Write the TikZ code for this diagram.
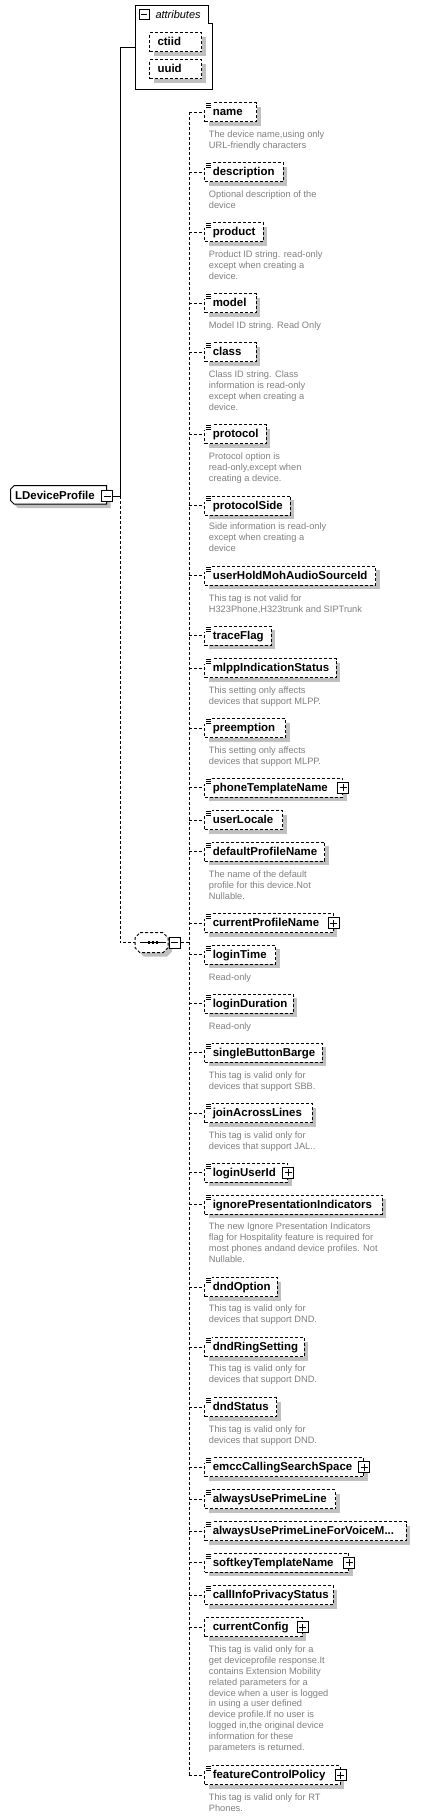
\documentclass[tikz,border=0pt]{standalone}
\usepackage{fontspec}
\setmainfont{Liberation Sans}
\usetikzlibrary{shadows}

\definecolor{shadegray}{RGB}{192,192,192}
\definecolor{notegray}{RGB}{128,128,128}

\tikzset{
  solidline/.style={line width=1bp},
  dashline/.style={line width=1bp, dash pattern=on 3bp off 2bp},
  elembox/.style={draw, dashline, fill=white, anchor=west, inner xsep=8bp, inner ysep=0pt,
    minimum height=19bp, text height=9bp, text depth=2bp, align=left,
    font=\fontsize{11.5}{12}\selectfont\bfseries,
    drop shadow={shadow xshift=4bp, shadow yshift=-4bp, fill=shadegray, opacity=1}},
  notetext/.style={anchor=north west, inner sep=0pt, align=left, text=notegray,
    font=\fontsize{9.3}{11}\selectfont},
  pmbox/.style={draw, solidline, fill=white, minimum size=11bp, inner sep=0pt},
}

% child element: name, centre y, right edge, label
\newcommand{\xsdelem}[4]{%
  \pgfmathsetmacro{\boxw}{#3-204.3-16}%
  \node[elembox, text width=\boxw bp] (#1) at (204.3,#2) {\mbox{#4}};
  \draw[dashline] (spine |- #1.west) -- (#1.west);
}
% type mark in the corner
\newcommand{\xsdicon}[1]{%
  \begin{scope}[shift={(#1.north west)}]
    \fill[white] (-0.6,-0.8) rectangle (7.2,6);
    \draw[line width=0.9bp] (1.7,1.3) -- ++(4.6,0) (1.7,3.3) -- ++(4.6,0) (1.7,5.3) -- ++(4.6,0);
  \end{scope}
}
% expand box on the right edge
\newcommand{\xsdplus}[1]{%
  \node[pmbox] (#1-pm) at (#1.east) {};
  \draw[solidline] ([xshift=-3.5bp]#1-pm.center) -- ([xshift=3.5bp]#1-pm.center)
    ([yshift=-3.5bp]#1-pm.center) -- ([yshift=3.5bp]#1-pm.center);
}
% grey annotation under an element, #2 = baseline of first line
\newcommand{\xsdnote}[3]{\node[notetext] (#1-note) at (208.7,#2-7.7) {\strut#3};}

\begin{document}
\begin{tikzpicture}[x=1bp, y=-1bp]
\fill[white] (0,0) rectangle (420,1818);
\useasboundingbox (0,0) rectangle (420,1818);

% root element
\fill[shadegray] (18,489.7) -- (110.7,489.7) -- (110.7,508) -- (18,508) -- (14.7,504.7) -- (14.7,493) -- cycle;
\draw[solidline, fill=white] (14,485.7) -- (106.7,485.7) -- (106.7,504) -- (14,504) -- (10.7,500.7) -- (10.7,489) -- cycle;
\node[anchor=base west, inner sep=0pt, font=\fontsize{11.5}{12}\selectfont\bfseries] (root) at (15,499.3) {LDeviceProfile};
\node[pmbox] (root-pm) at (107,496) {};
\draw[solidline] ([xshift=-3.5bp]root-pm.center) -- ([xshift=3.5bp]root-pm.center);

% attributes
\draw[solidline, fill=white] (135.3,5.3) -- (208.5,5.3) -- (208.5,23) -- (212,23) -- (212,89.3) -- (135.3,89.3) -- cycle;
\node[pmbox, minimum size=10bp] (attr-pm) at (144,14.7) {};
\draw[solidline] ([xshift=-3.2bp]attr-pm.center) -- ([xshift=3.2bp]attr-pm.center);
\node[anchor=base west, inner sep=0pt, font=\fontsize{11}{12}\selectfont\itshape] (attr) at (155.3,18.7) {attributes};
\coordinate (attr-in) at (135.3,47.7);
\node[elembox, text width=36bp] (ctiid) at (149,42) {ctiid};
\node[elembox, text width=36bp] (uuid) at (149,69) {uuid};

% sequence
\fill[shadegray] (144,936.7) -- (167,936.7) -- (172,941.7) -- (172,951.7) -- (167,956.7) -- (144,956.7) -- (139,951.7) -- (139,941.7) -- cycle;
\draw[dashline, fill=white] (140,932.7) -- (163,932.7) -- (168,937.7) -- (168,947.7) -- (163,952.7) -- (140,952.7) -- (135,947.7) -- (135,937.7) -- cycle;
\coordinate (seq) at (135,942.7);
\draw[solidline] (140,942.7) -- (165.7,942.7);
\foreach \sx in {147.7,151.7,155.7} \fill (\sx,941.4) rectangle ++(2.6,2.6);
\node[pmbox] (seq-pm) at (174.8,942.7) {};
\draw[solidline] ([xshift=-3.5bp]seq-pm.center) -- ([xshift=3.5bp]seq-pm.center);

\coordinate (hub) at (120,496);
\coordinate (spine) at (189.3,942.7);
\draw[solidline] (root-pm.east) -- (hub) |- (attr-in);
\draw[dashline] (hub) |- (seq);
\draw[dashline] (seq-pm.east) -- (spine);

% children
\xsdelem{name}{112}{256}{name} \xsdicon{name}
\xsdnote{name}{137.3}{The device name,using only\\URL-friendly characters}
\xsdelem{description}{172.2}{282.7}{description} \xsdicon{description}
\xsdnote{description}{197}{Optional description of the\\device}
\xsdelem{product}{232}{262.7}{product} \xsdicon{product}
\xsdnote{product}{257}{Product ID string. read-only\\except when creating a\\device.}
\xsdelem{model}{303}{255.7}{model} \xsdicon{model}
\xsdnote{model}{328}{Model ID string. Read Only}
\xsdelem{class}{352.3}{255.7}{class} \xsdicon{class}
\xsdnote{class}{377}{Class ID string. Class\\information is read-only\\except when creating a\\device.}
\xsdelem{protocol}{434.2}{265.7}{protocol} \xsdicon{protocol}
\xsdnote{protocol}{459}{Protocol option is\\read-only,except when\\creating a device.}
\xsdelem{protocolSide}{505.5}{289.7}{protocolSide} \xsdicon{protocolSide}
\xsdnote{protocolSide}{529.6}{Side information is read-only\\except when creating a\\device}
\xsdelem{userHoldMohAudioSourceId}{575.8}{375}{userHoldMohAudioSourceId} \xsdicon{userHoldMohAudioSourceId}
\xsdnote{userHoldMohAudioSourceId}{601}{This tag is not valid for\\H323Phone,H323trunk and SIPTrunk}
\xsdelem{traceFlag}{635.8}{270.7}{traceFlag} \xsdicon{traceFlag}
\xsdelem{mlppIndicationStatus}{668.2}{335.7}{mlppIndicationStatus} \xsdicon{mlppIndicationStatus}
\xsdnote{mlppIndicationStatus}{693}{This setting only affects\\devices that support MLPP.}
\xsdelem{preemption}{728.2}{285}{preemption} \xsdicon{preemption}
\xsdnote{preemption}{753}{This setting only affects\\devices that support MLPP.}
\xsdelem{phoneTemplateName}{787.8}{342.3}{phoneTemplateName} \xsdicon{phoneTemplateName} \xsdplus{phoneTemplateName}
\xsdelem{userLocale}{820}{282}{userLocale} \xsdicon{userLocale}
\xsdelem{defaultProfileName}{851.7}{324.3}{defaultProfileName} \xsdicon{defaultProfileName}
\xsdnote{defaultProfileName}{877}{The name of the default\\profile for this device.Not\\Nullable.}
\xsdelem{currentProfileName}{923}{332.8}{currentProfileName} \xsdicon{currentProfileName} \xsdplus{currentProfileName}
\xsdelem{loginTime}{954.7}{275}{loginTime} \xsdicon{loginTime}
\xsdnote{loginTime}{980}{Read-only}
\xsdelem{loginDuration}{1003.8}{292.7}{loginDuration} \xsdicon{loginDuration}
\xsdnote{loginDuration}{1029}{Read-only}
\xsdelem{singleButtonBarge}{1052.8}{321.7}{singleButtonBarge} \xsdicon{singleButtonBarge}
\xsdnote{singleButtonBarge}{1078}{This tag is valid only for\\devices that support SBB.}
\xsdelem{joinAcrossLines}{1113}{311.7}{joinAcrossLines} \xsdicon{joinAcrossLines}
\xsdnote{joinAcrossLines}{1138}{This tag is valid only for\\devices that support JAL..}
\xsdelem{loginUserId}{1172.8}{287.3}{loginUserId} \xsdicon{loginUserId} \xsdplus{loginUserId}
\xsdelem{ignorePresentationIndicators}{1204.5}{381.7}{ignorePresentationIndicators} \xsdicon{ignorePresentationIndicators}
\xsdnote{ignorePresentationIndicators}{1229.6}{The new Ignore Presentation Indicators\\flag for Hospitality feature is required for\\most phones andand device profiles. Not\\Nullable.}
\xsdelem{dndOption}{1287}{276.7}{dndOption} \xsdicon{dndOption}
\xsdnote{dndOption}{1311.6}{This tag is valid only for\\devices that support DND.}
\xsdelem{dndRingSetting}{1347.2}{303.7}{dndRingSetting} \xsdicon{dndRingSetting}
\xsdnote{dndRingSetting}{1371.6}{This tag is valid only for\\devices that support DND.}
\xsdelem{dndStatus}{1407.2}{276}{dndStatus} \xsdicon{dndStatus}
\xsdnote{dndStatus}{1432}{This tag is valid only for\\devices that support DND.}
\xsdelem{emccCallingSearchSpace}{1467}{363.3}{emccCallingSearchSpace} \xsdicon{emccCallingSearchSpace} \xsdplus{emccCallingSearchSpace}
\xsdelem{alwaysUsePrimeLine}{1499.3}{335}{alwaysUsePrimeLine} \xsdicon{alwaysUsePrimeLine}
\xsdelem{alwaysUsePrimeLineForVoiceM}{1531}{405.7}{alwaysUsePrimeLineForVoiceM...} \xsdicon{alwaysUsePrimeLineForVoiceM}
\xsdelem{softkeyTemplateName}{1562.8}{348.3}{softkeyTemplateName} \xsdicon{softkeyTemplateName} \xsdplus{softkeyTemplateName}
\xsdelem{callInfoPrivacyStatus}{1595}{332.7}{callInfoPrivacyStatus} \xsdicon{callInfoPrivacyStatus}
\xsdelem{currentConfig}{1627}{301.7}{currentConfig} \xsdplus{currentConfig}
\xsdnote{currentConfig}{1652}{This tag is valid only for a\\get deviceprofile response.It\\contains Extension Mobility\\related parameters for a\\device when a user is logged\\in using a user defined\\device profile.If no user is\\logged in,the original device\\information for these\\parameters is returned.}
\xsdelem{featureControlPolicy}{1775}{339.5}{featureControlPolicy} \xsdicon{featureControlPolicy} \xsdplus{featureControlPolicy}
\xsdnote{featureControlPolicy}{1800.3}{This tag is valid only for RT\\Phones.}

\draw[dashline] (spine |- name.west) -- (spine |- featureControlPolicy.west);
\end{tikzpicture}
\end{document}
